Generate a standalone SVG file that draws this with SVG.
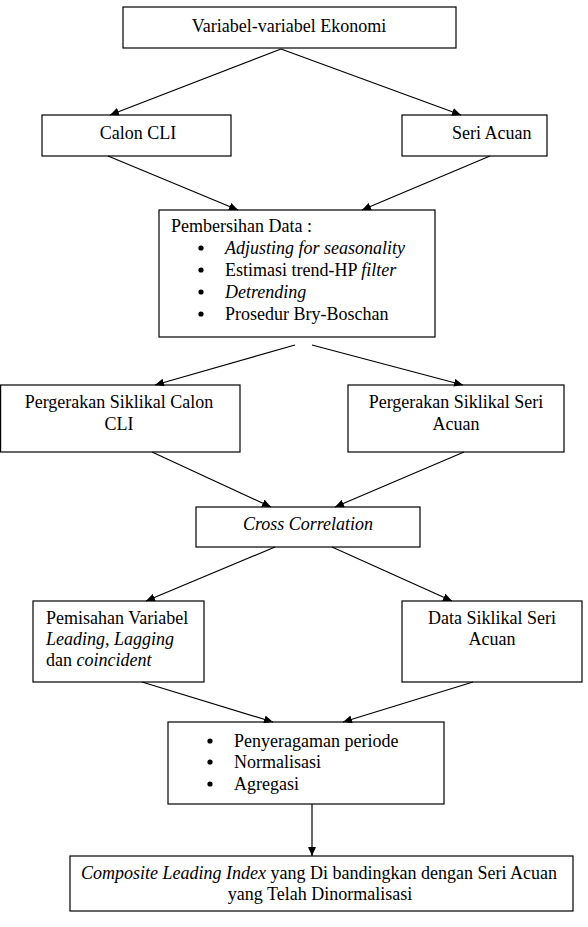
<svg xmlns="http://www.w3.org/2000/svg" width="588" height="927" viewBox="0 0 588 927">
<style>
  .box { fill: #ffffff; stroke: #000000; stroke-width: 1.2; }
  .t { font-family: "Liberation Serif", "Times New Roman", serif; font-size: 18px; fill: #000000; }
  .c { text-anchor: middle; }
  .i { font-style: italic; }
  .conn line { stroke: #000000; stroke-width: 1.2; marker-end: url(#arr); }
  .dot { fill: #000000; }
</style>
<defs>
  <marker id="arr" markerUnits="userSpaceOnUse" markerWidth="9" markerHeight="8" refX="9" refY="4" orient="auto">
    <path d="M0,0 L9,4 L0,8 z" fill="#000000"/>
  </marker>
</defs>
<rect width="588" height="927" fill="#ffffff"/>

<g id="n-variabel">
  <rect class="box" x="123" y="7" width="333" height="41"/>
  <text class="t c" x="289" y="32">Variabel-variabel Ekonomi</text>
</g>
<g id="n-calon">
  <rect class="box" x="42" y="115" width="189" height="41"/>
  <text class="t c" x="138" y="139">Calon CLI</text>
</g>
<g id="n-seri">
  <rect class="box" x="402" y="115" width="145" height="41"/>
  <text class="t" x="452" y="139">Seri Acuan</text>
</g>
<g id="n-pembersihan">
  <rect class="box" x="159" y="210" width="276" height="127"/>
  <text class="t" x="171" y="232">Pembersihan Data :</text>
  <circle class="dot" cx="201" cy="248" r="2.6"/>
  <text class="t i" x="225" y="254">Adjusting for seasonality</text>
  <circle class="dot" cx="201" cy="270" r="2.6"/>
  <text class="t" x="225" y="276">Estimasi trend-HP <tspan class="i">filter</tspan></text>
  <circle class="dot" cx="201" cy="292" r="2.6"/>
  <text class="t i" x="225" y="298">Detrending</text>
  <circle class="dot" cx="201" cy="314" r="2.6"/>
  <text class="t" x="225" y="320">Prosedur Bry-Boschan</text>
</g>
<g id="n-perg-calon">
  <rect class="box" x="0.6" y="385" width="239.4" height="67"/>
  <text class="t c" x="119" y="408">Pergerakan Siklikal Calon</text>
  <text class="t c" x="119" y="430">CLI</text>
</g>
<g id="n-perg-seri">
  <rect class="box" x="348" y="385" width="216" height="67"/>
  <text class="t c" x="456" y="408">Pergerakan Siklikal Seri</text>
  <text class="t c" x="456" y="430">Acuan</text>
</g>
<g id="n-cross">
  <rect class="box" x="196" y="507" width="224" height="40"/>
  <text class="t c i" x="308" y="530">Cross Correlation</text>
</g>
<g id="n-pemisahan">
  <rect class="box" x="33" y="601" width="171" height="81"/>
  <text class="t" x="46" y="624">Pemisahan Variabel</text>
  <text class="t i" x="46" y="645">Leading, Lagging</text>
  <text class="t" x="46" y="666">dan <tspan class="i">coincident</tspan></text>
</g>
<g id="n-data">
  <rect class="box" x="402" y="601" width="180" height="81"/>
  <text class="t c" x="492" y="624">Data Siklikal Seri</text>
  <text class="t c" x="492" y="645">Acuan</text>
</g>
<g id="n-penyeragaman">
  <rect class="box" x="168" y="722" width="276" height="82"/>
  <circle class="dot" cx="210" cy="741" r="2.6"/>
  <text class="t" x="234" y="747">Penyeragaman periode</text>
  <circle class="dot" cx="210" cy="762" r="2.6"/>
  <text class="t" x="234" y="768">Normalisasi</text>
  <circle class="dot" cx="210" cy="784" r="2.6"/>
  <text class="t" x="234" y="790">Agregasi</text>
</g>
<g id="n-composite">
  <rect class="box" x="70" y="856" width="503" height="55"/>
  <text class="t c" x="319" y="879"><tspan class="i">Composite Leading Index</tspan> yang Di bandingkan dengan Seri Acuan</text>
  <text class="t c" x="320" y="900">yang Telah Dinormalisasi</text>
</g>

<g id="connectors" class="conn">
  <line x1="281" y1="49" x2="110" y2="115"/>
  <line x1="281" y1="49" x2="461" y2="115"/>
  <line x1="108" y1="156" x2="238" y2="210"/>
  <line x1="490" y1="156" x2="362" y2="210"/>
  <line x1="295" y1="345" x2="155" y2="385"/>
  <line x1="312" y1="345" x2="463" y2="385"/>
  <line x1="152" y1="452" x2="271" y2="507"/>
  <line x1="464" y1="452" x2="335" y2="507"/>
  <line x1="275" y1="547" x2="146" y2="601"/>
  <line x1="332" y1="547" x2="452" y2="601"/>
  <line x1="142" y1="682" x2="273" y2="722"/>
  <line x1="473" y1="682" x2="343" y2="722"/>
  <line x1="312" y1="804" x2="312" y2="856"/>
</g>
</svg>
